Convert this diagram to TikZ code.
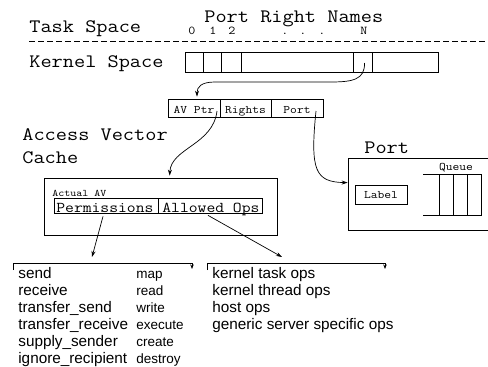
\documentclass[tikz,border=0pt]{standalone}
\usepackage{fontspec}
\setmainfont{Liberation Sans}
\newfontfamily\monof{Latin Modern Mono}[FakeStretch=1.143]
\usetikzlibrary{arrows.meta,calc}
\begin{document}
\begin{tikzpicture}[x=1pt,y=-1pt,line width=0.7pt,
  boxn/.style={draw,inner sep=0pt,minimum width=#1},
  big/.style={anchor=base west,inner sep=0pt,font=\monof\fontsize{19}{19}\selectfont},
  small/.style={anchor=base,inner sep=0pt,font=\monof\fontsize{11.5}{11.5}\selectfont},
  digit/.style={anchor=base,inner sep=0pt,font=\monof\fontsize{12}{12}\selectfont},
  mid/.style={anchor=base west,inner sep=0pt,font=\monof\fontsize{15}{15}\selectfont},
  listA/.style={anchor=base west,inner sep=0pt,font=\fontsize{15.3}{15.3}\selectfont},
  listB/.style={anchor=base west,inner sep=0pt,font=\fontsize{13.5}{13.5}\selectfont},
  arr/.style={-{Stealth[length=6pt,width=4pt]}},
  tick/.style={-{Stealth[length=4.5pt,width=3.5pt]}}]
\useasboundingbox (0,0) rectangle (488,367);
\clip (0,0) rectangle (488,367);

% header texts
\node[big] (ts) at (29,32) {Task Space};
\node[big] (prn) at (204,22) {Port Right Names};
\node[digit] (d0) at (192,34) {0};
\node[digit] (d1) at (213,34) {1};
\node[digit] (d2) at (232,34) {2};
\node[digit] (e1) at (285,34) {.};
\node[digit] (e2) at (303,34) {.};
\node[digit] (e3) at (322,34) {.};
\node[digit] (dn) at (364,34) {N};
\coordinate (dl) at (29,41);
\coordinate (dr) at (488,41);
\draw[dash pattern=on 6pt off 3pt] (dl) -- (dr);
\node[big] (ks) at (29,67) {Kernel Space};

% port right array
\begin{scope}[every node/.style={boxn,minimum height=20pt}]
\node[minimum width=18pt] (c0) at (194,62) {};
\node[minimum width=18pt] (c1) at (212,62) {};
\node[minimum width=20pt] (c2) at (231,62) {};
\node[minimum width=112pt] (c3) at (297,62) {};
\node[minimum width=19pt] (cN) at (362.5,62) {};
\node[minimum width=66pt] (c5) at (405,62) {};
\end{scope}

% entry table
\begin{scope}[every node/.style={boxn,minimum height=18pt}]
\node[minimum width=52pt] (t1) at (194,108) {};
\node[minimum width=51pt] (t2) at (245.5,108) {};
\node[minimum width=52pt] (t3) at (297,108) {};
\end{scope}
\node[small] (t1l) at (194,113) {AV Ptr};
\node[small] (t2l) at (245.5,113) {Rights};
\node[small] (t3l) at (297,113) {Port};

\draw[arr] ($(cN.center)+(2,1)$) .. controls (365,80) and (352,82) .. (330,82)
  -- (215,82) .. controls (201,82) and (197,87) .. ($(t1.north)+(3,-2)$);

% access vector cache
\node[big] (avc1) at (22,140) {Access Vector};
\node[big] (avc2) at (22,163) {Cache};
\node[boxn,minimum height=57pt,minimum width=233pt] (av) at (160.5,206.5) {};
\node[anchor=base west,inner sep=0pt,font=\monof\fontsize{10}{10}\selectfont] (aal) at (52,196) {Actual AV};
\node[boxn,minimum height=15pt,minimum width=104pt] (perm) at (106,205.5) {};
\node[boxn,minimum height=15pt,minimum width=104pt] (allowed) at (210,205.5) {};
\node[mid] (perml) at (56,212) {Permissions};
\node[mid] (allowl) at (162,212) {Allowed Ops};

\draw[arr] ($(t1.center)+(23,3)$) .. controls (213,145) and (171,148) .. ($(av.north west)+(126,-2)$);

% port
\node[big] (portt) at (364,153) {Port};
\node[boxn,minimum height=72pt,minimum width=160pt] (portbox) at (428,194) {};
\node[boxn,minimum height=19pt,minimum width=52pt] (lab) at (381,194.5) {};
\node[small] (labl) at (381,198) {Label};
\node[small] (qul) at (456,170) {Queue};
\coordinate (q1) at (423,174);
\coordinate (q2) at (482,174);
\coordinate (q3) at (423,215);
\coordinate (q4) at (482,215);
\draw (q1) -- (q2) (q3) -- (q4);
\foreach \x in {439,453,467,481} \draw (\x,174) -- (\x,215);

\draw[arr] ($(t3.center)+(19,3)$) .. controls (310,170) and (315,182) .. ($(portbox.north west)+(0,25)$);

% brackets
\coordinate (b1l) at (13,263);
\coordinate (b1r) at (192,263);
\coordinate (b2l) at (207,263);
\coordinate (b2r) at (385,263);
\draw (13,270) -- (b1l) -- (b1r);
\draw[tick] (b1r) -- (192,269);
\draw (207,270) -- (b2l) -- (b2r);
\draw[tick] (b2r) -- (385,269);

\draw[arr] ($(perm.south)+(-3,3)$) -- ($(b1l)+(79,-6)$);
\draw[arr] ($(allowed.south)+(-2,2)$) -- ($(b2l)+(75,-6)$);

% lists
\node[listA] (s1) at (18,278) {send};
\node[listA] (s2) at (18,295) {receive};
\node[listA] (s3) at (18,312) {transfer\_send};
\node[listA] (s4) at (18,329) {transfer\_receive};
\node[listA] (s5) at (18,346) {supply\_sender};
\node[listA] (s6) at (18,363) {ignore\_recipient};
\node[listB] (m1) at (136,278) {map};
\node[listB] (m2) at (136,295) {read};
\node[listB] (m3) at (136,312) {write};
\node[listB] (m4) at (136,329) {execute};
\node[listB] (m5) at (136,346) {create};
\node[listB] (m6) at (136,363) {destroy};
\node[listA] (k1) at (212,278) {kernel task ops};
\node[listA] (k2) at (212,295) {kernel thread ops};
\node[listA] (k3) at (212,312) {host ops};
\node[listA] (k4) at (212,329) {generic server specific ops};
\end{tikzpicture}
\end{document}
